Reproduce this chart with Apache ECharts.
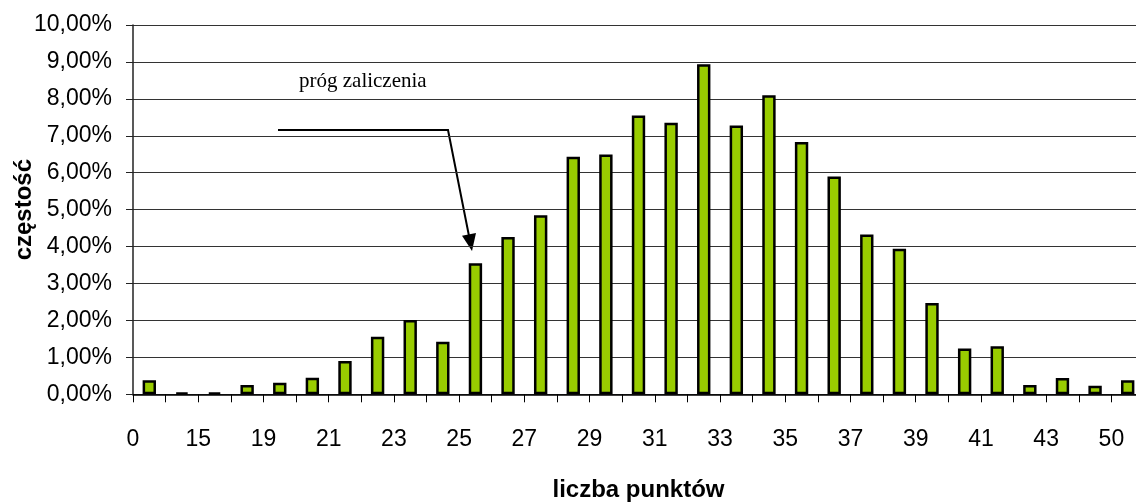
<!DOCTYPE html>
<html>
<head>
<meta charset="utf-8">
<script src="https://cdn.jsdelivr.net/npm/echarts@6/dist/echarts.min.js"></script>
<style>
html,body{margin:0;padding:0;background:#fff;}
#chart{width:1136px;height:503px;}
</style>
</head>
<body>
<div id="chart"></div>
<script>
// categories (hidden odd labels are estimates; only every other label is shown)
var categories = ['0','10','15','17','19','20','21','22','23','24','25','26','27','28','29','30','31','32','33','34','35','36','37','38','39','40','41','42','43','45','50'];
// frequency in percent
var frequency = [0.38,0.05,0.05,0.25,0.31,0.45,0.90,1.56,2.01,1.42,3.55,4.26,4.85,6.43,6.49,7.55,7.35,8.94,7.28,8.10,6.83,5.90,4.33,3.94,2.47,1.24,1.30,0.25,0.44,0.23,0.38];
var yMin = 0, yMax = 10, yStep = 1;
var xName = 'liczba punktów';
var yName = 'częstość';
var noteText = 'próg zaliczenia';

var chart = echarts.init(document.getElementById('chart'), null, {renderer:'canvas'});
var catW = 1011 / categories.length;
var option = {
  animation: false,
  backgroundColor: '#ffffff',
  grid: {left: 133, top: 25, width: 1011, height: 369.3, containLabel: false, outerBoundsMode: 'none'},
  xAxis: {
    type: 'category',
    data: categories,
    boundaryGap: true,
    name: xName,
    nameLocation: 'middle',
    nameGap: 84,
    nameMoveOverlap: false,
    nameTextStyle: {fontFamily: 'Liberation Sans, Arial', fontSize: 24, fontWeight: 'bold', color: '#000'},
    axisLine: {lineStyle: {color: '#000', width: 1.5}},
    axisTick: {show: true, length: 8, interval: 0, lineStyle: {color: '#000', width: 1}},
    axisLabel: {
      interval: 1,
      margin: 34,
      fontFamily: 'Liberation Sans, Arial',
      fontSize: 23,
      lineHeight: 23,
      color: '#000',
      padding: [0, catW, 0, 0]
    },
    splitLine: {show: false}
  },
  yAxis: {
    type: 'value',
    min: yMin, max: yMax, interval: yStep,
    name: yName,
    nameLocation: 'middle',
    nameGap: 97,
    nameRotate: 90,
    nameMoveOverlap: false,
    nameTextStyle: {fontFamily: 'Liberation Sans, Arial', fontSize: 24, fontWeight: 'bold', color: '#000'},
    axisLine: {show: true, lineStyle: {color: '#222', width: 1.5}},
    axisTick: {show: true, length: 7, lineStyle: {color: '#222', width: 1}},
    axisLabel: {
      margin: 21,
      fontFamily: 'Liberation Sans, Arial',
      fontSize: 23,
      color: '#000',
      formatter: function (v) { return v.toFixed(2).replace('.', ',') + '%'; }
    },
    splitLine: {show: true, lineStyle: {color: '#333', width: 1}}
  },
  series: [{
    type: 'bar',
    data: frequency,
    barWidth: '41%',
    itemStyle: {color: '#99CC00', borderColor: '#000', borderWidth: 2.5}
  }],
  graphic: [
    {type: 'text', left: 299, top: 71, style: {text: noteText, font: '21px "Liberation Serif", "Times New Roman", serif', fill: '#000'}},
    {type: 'polyline', shape: {points: [[278,130],[448,130],[469,236]]}, style: {stroke: '#000', lineWidth: 2, fill: null}},
    {type: 'polygon', shape: {points: [[472,251],[476,233],[462,235.7]]}, style: {fill: '#000'}}
  ]
};
chart.setOption(option);
</script>
</body>
</html>
